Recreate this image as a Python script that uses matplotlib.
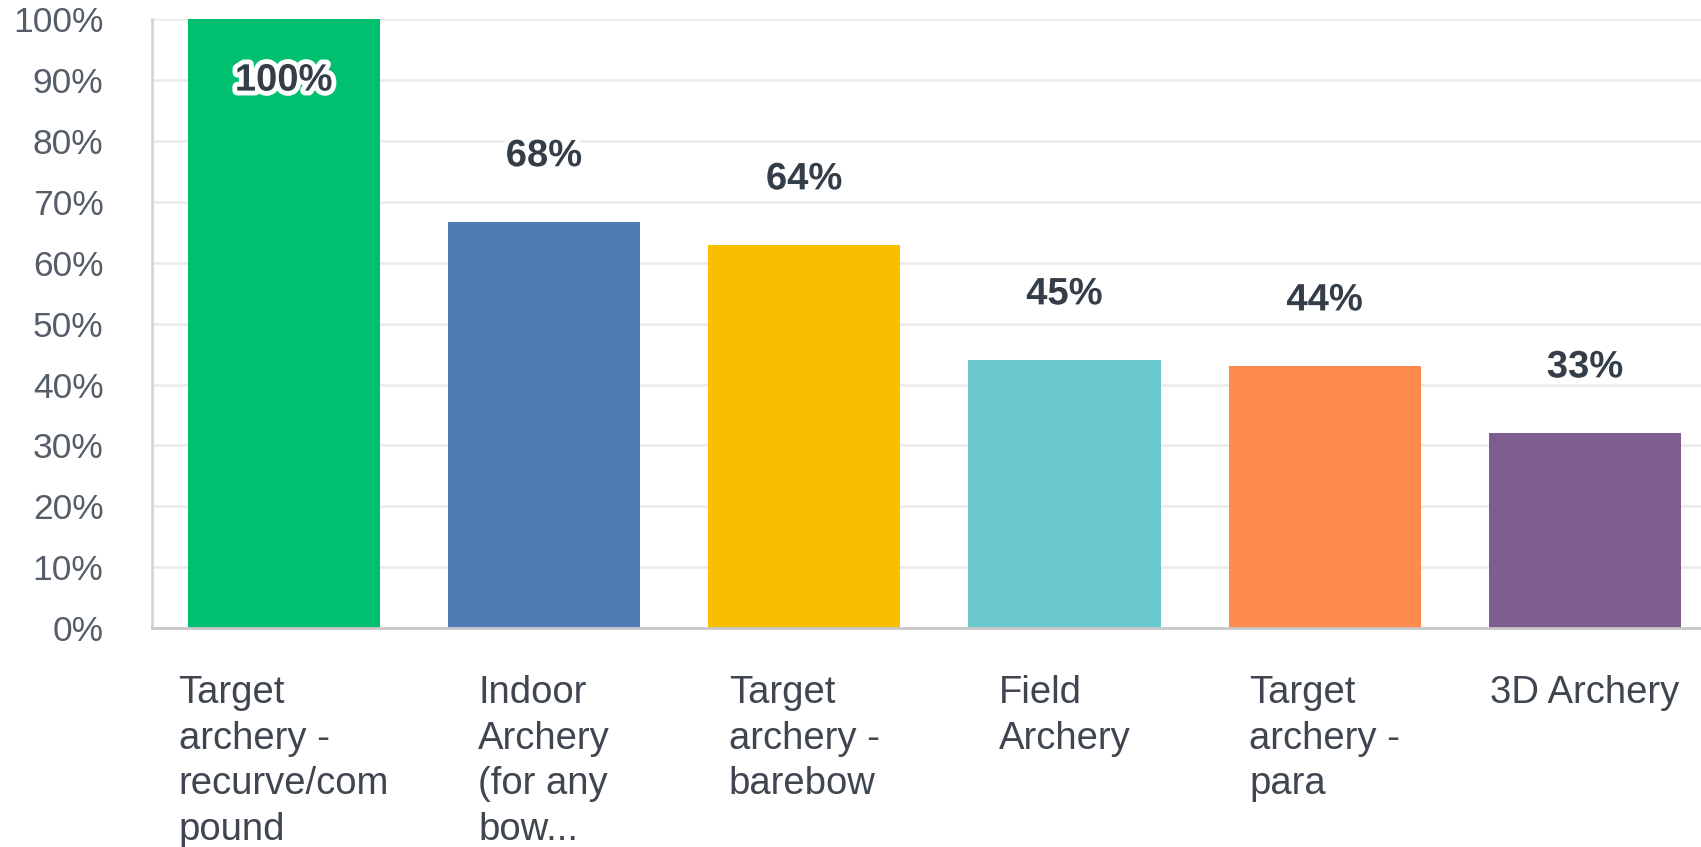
import matplotlib
matplotlib.use("Agg")
import matplotlib.pyplot as plt
import matplotlib.patheffects as pe
from matplotlib.ticker import FixedLocator

categories = [
    "Target\narchery -\nrecurve/com\npound",
    "Indoor\nArchery\n(for any\nbow...",
    "Target\narchery -\nbarebow",
    "Field\nArchery",
    "Target\narchery -\npara",
    "3D Archery",
]
values = [100, 66.8, 63.0, 44.1, 43.1, 32.1]
value_labels = ["100%", "68%", "64%", "45%", "44%", "33%"]
colors = ["#00bf6f", "#507cb6", "#f9be00", "#6bc8cd", "#ff8b4f", "#7d5e8f"]
yticks = [0, 10, 20, 30, 40, 50, 60, 70, 80, 90, 100]
ytick_labels = [f"{t}%" for t in yticks]

plt.rcParams['font.family'] = ['Liberation Sans', 'DejaVu Sans']

fig = plt.figure(figsize=(17.01, 8.47), dpi=100)
ax = fig.add_axes([152/1701, (847-628)/847, 1 - 152/1701 + 0.001, (628-19.5)/847])

x = list(range(len(categories)))
ax.bar(x, values, width=0.738, color=colors, zorder=3)

ax.set_xlim(-0.506, 5.452)
ax.set_ylim(0, 100)

ax.yaxis.set_major_locator(FixedLocator(yticks))
ax.set_yticklabels(ytick_labels, fontsize=25.5, color="#545d68")
ax.set_xticks(x)
ax.set_xticklabels(categories, fontsize=27.5, color="#3f4650", ha="center",
                   multialignment="left", linespacing=1.34)
ax.tick_params(axis="both", length=0)
ax.tick_params(axis="y", pad=35)
ax.tick_params(axis="x", pad=34)

ax.grid(axis="y", color="#ebebeb", linewidth=2, zorder=0)
ax.set_axisbelow(True)
for s in ["top", "right"]:
    ax.spines[s].set_visible(False)
ax.spines["left"].set_color("#d4d4d4")
ax.spines["left"].set_linewidth(2)
ax.spines["bottom"].set_color("#c8c8c8")
ax.spines["bottom"].set_linewidth(2)
ax.spines["bottom"].set_zorder(4)

for xi, v, lab in zip(x, values, value_labels):
    off = -44 if v > 90 else 47
    ax.annotate(lab, (xi, v), xytext=(0, off), textcoords="offset points",
                ha="center", va="center", fontsize=27.5, fontweight="bold",
                color="#333e48", zorder=5,
                path_effects=[pe.withStroke(linewidth=7, foreground="white")])

fig.savefig("out.png", dpi=100)
